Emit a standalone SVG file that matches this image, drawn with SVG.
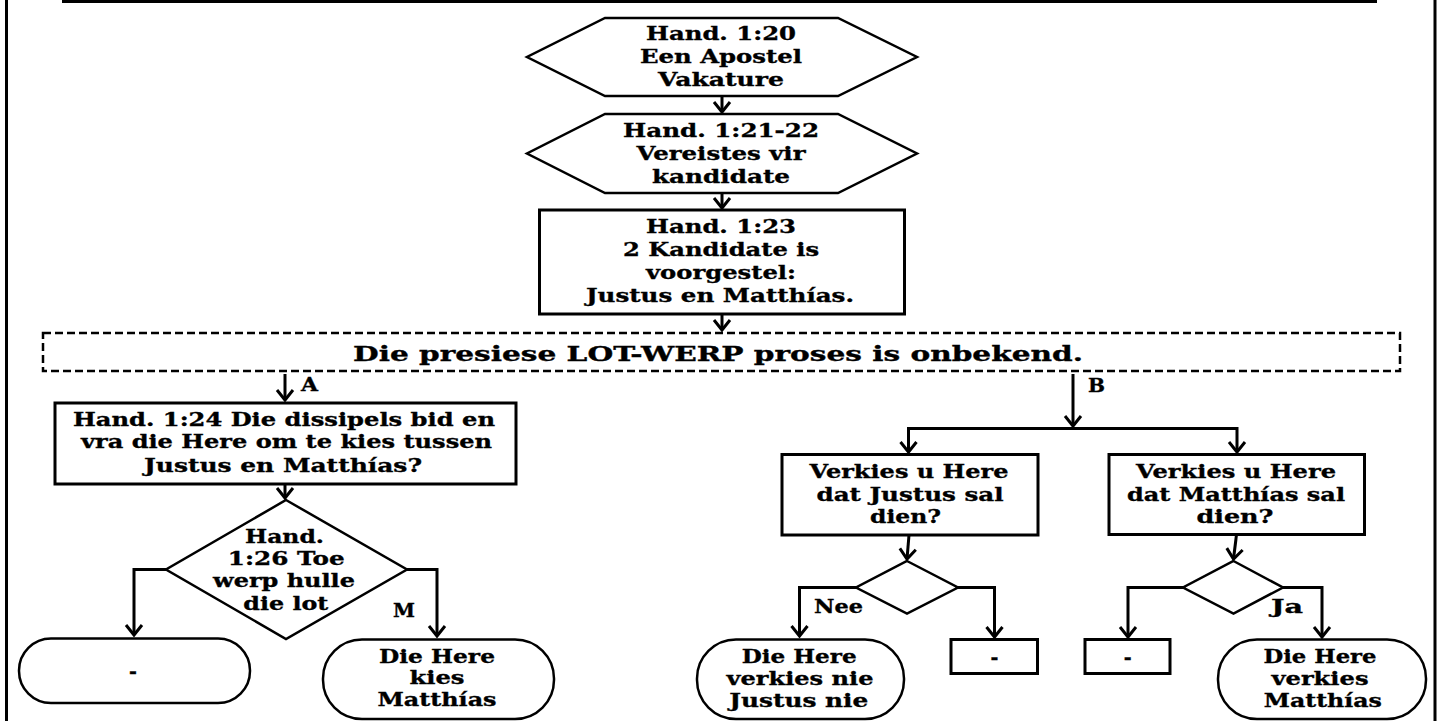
<svg xmlns="http://www.w3.org/2000/svg" width="1440" height="721" viewBox="0 0 1440 721">
<style>
.t{font-family:"DejaVu Serif","Liberation Serif",serif;font-weight:bold;font-size:19px;fill:#000;stroke:#000;stroke-width:0.35;text-anchor:middle}
.l{text-anchor:start}
.s{fill:#fff;stroke:#000;stroke-width:3}
.h{fill:#fff;stroke:#000;stroke-width:2.5}
.c{fill:none;stroke:#000;stroke-width:3;marker-end:url(#ah)}
</style>
<defs>
<marker id="ah" markerUnits="userSpaceOnUse" markerWidth="30" markerHeight="30" viewBox="-15 -15 30 30" refX="0" refY="0" orient="auto" overflow="visible">
<path d="M-10,-8 L0,0 L-10,8" fill="none" stroke="#000" stroke-width="3"/>
</marker>
</defs>
<rect width="1440" height="721" fill="#fff"/>
<g id="frame" stroke="#000" stroke-width="3" fill="none">
<line x1="62" y1="1.5" x2="1377" y2="1.5"/>
<line x1="6.5" y1="0" x2="6.5" y2="721"/>
<line x1="1435" y1="0" x2="1435" y2="721"/>
</g>
<g id="connectors">
<path class="c" d="M722,96 V112"/>
<path class="c" d="M722,193 V208"/>
<path class="c" d="M722,314 V330"/>
<path class="c" d="M285,374 V400"/>
<path class="c" d="M285,484 V498"/>
<path class="c" d="M166,569.5 H134 V635"/>
<path class="c" d="M407,569.5 H437 V636"/>
<path class="c" d="M1073,374 V426"/>
<path class="c" d="M1073,428.5 H908.5 V452"/>
<path class="c" d="M1073,428.5 H1237 V452"/>
<path class="c" d="M909,535 L907,559"/>
<path class="c" d="M856,587.5 H799.5 V636"/>
<path class="c" d="M958,587.5 H994.5 V637"/>
<path class="c" d="M1236.5,534.5 L1233.5,559"/>
<path class="c" d="M1183,587.5 H1128 V637"/>
<path class="c" d="M1283,587.5 H1322 V637"/>
<text class="t l" x="301" y="391" textLength="17" lengthAdjust="spacingAndGlyphs">A</text>
<text class="t l" x="1088" y="392" textLength="17" lengthAdjust="spacingAndGlyphs">B</text>
<text class="t l" x="393" y="617" textLength="22" lengthAdjust="spacingAndGlyphs">M</text>
<text class="t l" x="814" y="613" textLength="49" lengthAdjust="spacingAndGlyphs">Nee</text>
<text class="t l" x="1271" y="613" textLength="32" lengthAdjust="spacingAndGlyphs">Ja</text>
</g>
<g id="n1">
<polygon class="h" points="605,18 838,18 917,57 838,96 605,96 527,57"/>
<text class="t" x="721" y="40" textLength="150" lengthAdjust="spacingAndGlyphs">Hand. 1:20</text>
<text class="t" x="721" y="63" textLength="162" lengthAdjust="spacingAndGlyphs">Een Apostel</text>
<text class="t" x="721" y="86" textLength="126" lengthAdjust="spacingAndGlyphs">Vakature</text>
</g>
<g id="n2">
<polygon class="h" points="605,114 838,114 917,153.5 838,193 605,193 527,153.5"/>
<text class="t" x="721" y="137" textLength="196" lengthAdjust="spacingAndGlyphs">Hand. 1:21-22</text>
<text class="t" x="721" y="160" textLength="169" lengthAdjust="spacingAndGlyphs">Vereistes vir</text>
<text class="t" x="721" y="183" textLength="138" lengthAdjust="spacingAndGlyphs">kandidate</text>
</g>
<g id="n3">
<rect class="s" x="539.5" y="210" width="365" height="104"/>
<text class="t" x="721" y="233" textLength="150" lengthAdjust="spacingAndGlyphs">Hand. 1:23</text>
<text class="t" x="721" y="256" textLength="196" lengthAdjust="spacingAndGlyphs">2 Kandidate is</text>
<text class="t" x="721" y="278.5" textLength="150" lengthAdjust="spacingAndGlyphs">voorgestel:</text>
<text class="t" x="720" y="301.5" textLength="268" lengthAdjust="spacingAndGlyphs">Justus en Matthías.</text>
</g>
<g id="n4">
<rect x="43" y="333" width="1357" height="38" fill="#fff" stroke="#000" stroke-width="2.5" stroke-dasharray="8,4"/>
<text class="t" x="718" y="361" style="font-size:21px" textLength="730" lengthAdjust="spacingAndGlyphs">Die presiese LOT-WERP proses is onbekend.</text>
</g>
<g id="n5">
<rect class="s" x="55" y="403" width="461" height="81"/>
<text class="t" x="284" y="426" textLength="422" lengthAdjust="spacingAndGlyphs">Hand. 1:24 Die dissipels bid en</text>
<text class="t" x="286.5" y="448.3" textLength="411" lengthAdjust="spacingAndGlyphs">vra die Here om te kies tussen</text>
<text class="t" x="283" y="471.5" textLength="278" lengthAdjust="spacingAndGlyphs">Justus en Matthías?</text>
</g>
<g id="n6">
<polygon class="h" points="286,500 407,569.5 286,639 166,569.5"/>
<text class="t" x="284.5" y="542.7" textLength="79" lengthAdjust="spacingAndGlyphs">Hand.</text>
<text class="t" x="286.3" y="565" textLength="117" lengthAdjust="spacingAndGlyphs">1:26 Toe</text>
<text class="t" x="284" y="587.3" textLength="142" lengthAdjust="spacingAndGlyphs">werp hulle</text>
<text class="t" x="285.8" y="610" textLength="85" lengthAdjust="spacingAndGlyphs">die lot</text>
</g>
<g id="n7">
<rect class="h" x="19" y="638.5" width="231" height="64.5" rx="32" ry="32"/>
<text class="t" x="133" y="678">-</text>
</g>
<g id="n8">
<rect class="h" x="323" y="639.5" width="231" height="79.5" rx="39" ry="39"/>
<text class="t" x="437" y="662.7" textLength="116" lengthAdjust="spacingAndGlyphs">Die Here</text>
<text class="t" x="437" y="683.5" textLength="55" lengthAdjust="spacingAndGlyphs">kies</text>
<text class="t" x="437" y="706" textLength="119" lengthAdjust="spacingAndGlyphs">Matthías</text>
</g>
<g id="n9">
<rect class="s" x="782" y="454.5" width="256" height="80.5"/>
<text class="t" x="909" y="478.3" textLength="199" lengthAdjust="spacingAndGlyphs">Verkies u Here</text>
<text class="t" x="910" y="500.7" textLength="187" lengthAdjust="spacingAndGlyphs">dat Justus sal</text>
<text class="t" x="905.5" y="523.3" textLength="71" lengthAdjust="spacingAndGlyphs">dien?</text>
</g>
<g id="n10">
<rect class="s" x="1109" y="454.5" width="255.5" height="80"/>
<text class="t" x="1236" y="478.3" textLength="200" lengthAdjust="spacingAndGlyphs">Verkies u Here</text>
<text class="t" x="1236" y="500.7" textLength="218" lengthAdjust="spacingAndGlyphs">dat Matthías sal</text>
<text class="t" x="1235" y="523.3" textLength="77" lengthAdjust="spacingAndGlyphs">dien?</text>
</g>
<g id="n11">
<polygon class="h" points="907,561 958,587.5 907,613.5 856,587.5"/>
</g>
<g id="n12">
<polygon class="h" points="1233.5,561 1283,587.5 1233.5,613.5 1183,587.5"/>
</g>
<g id="n13">
<rect class="h" x="697" y="639.5" width="207" height="79.5" rx="39" ry="39"/>
<text class="t" x="799.2" y="662.7" textLength="115" lengthAdjust="spacingAndGlyphs">Die Here</text>
<text class="t" x="800" y="684.5" textLength="147" lengthAdjust="spacingAndGlyphs">verkies nie</text>
<text class="t" x="798.8" y="706.7" textLength="139" lengthAdjust="spacingAndGlyphs">Justus nie</text>
</g>
<g id="n14">
<rect class="s" x="951" y="639.5" width="86.5" height="34"/>
<text class="t" x="994.5" y="664">-</text>
</g>
<g id="n15">
<rect class="s" x="1085" y="639.5" width="85" height="34"/>
<text class="t" x="1127.7" y="664">-</text>
</g>
<g id="n16">
<rect class="h" x="1218" y="639.5" width="208" height="79.5" rx="39" ry="39"/>
<text class="t" x="1320" y="662.7" textLength="113" lengthAdjust="spacingAndGlyphs">Die Here</text>
<text class="t" x="1320" y="684.7" textLength="97" lengthAdjust="spacingAndGlyphs">verkies</text>
<text class="t" x="1322.8" y="706.7" textLength="118" lengthAdjust="spacingAndGlyphs">Matthías</text>
</g>
</svg>
